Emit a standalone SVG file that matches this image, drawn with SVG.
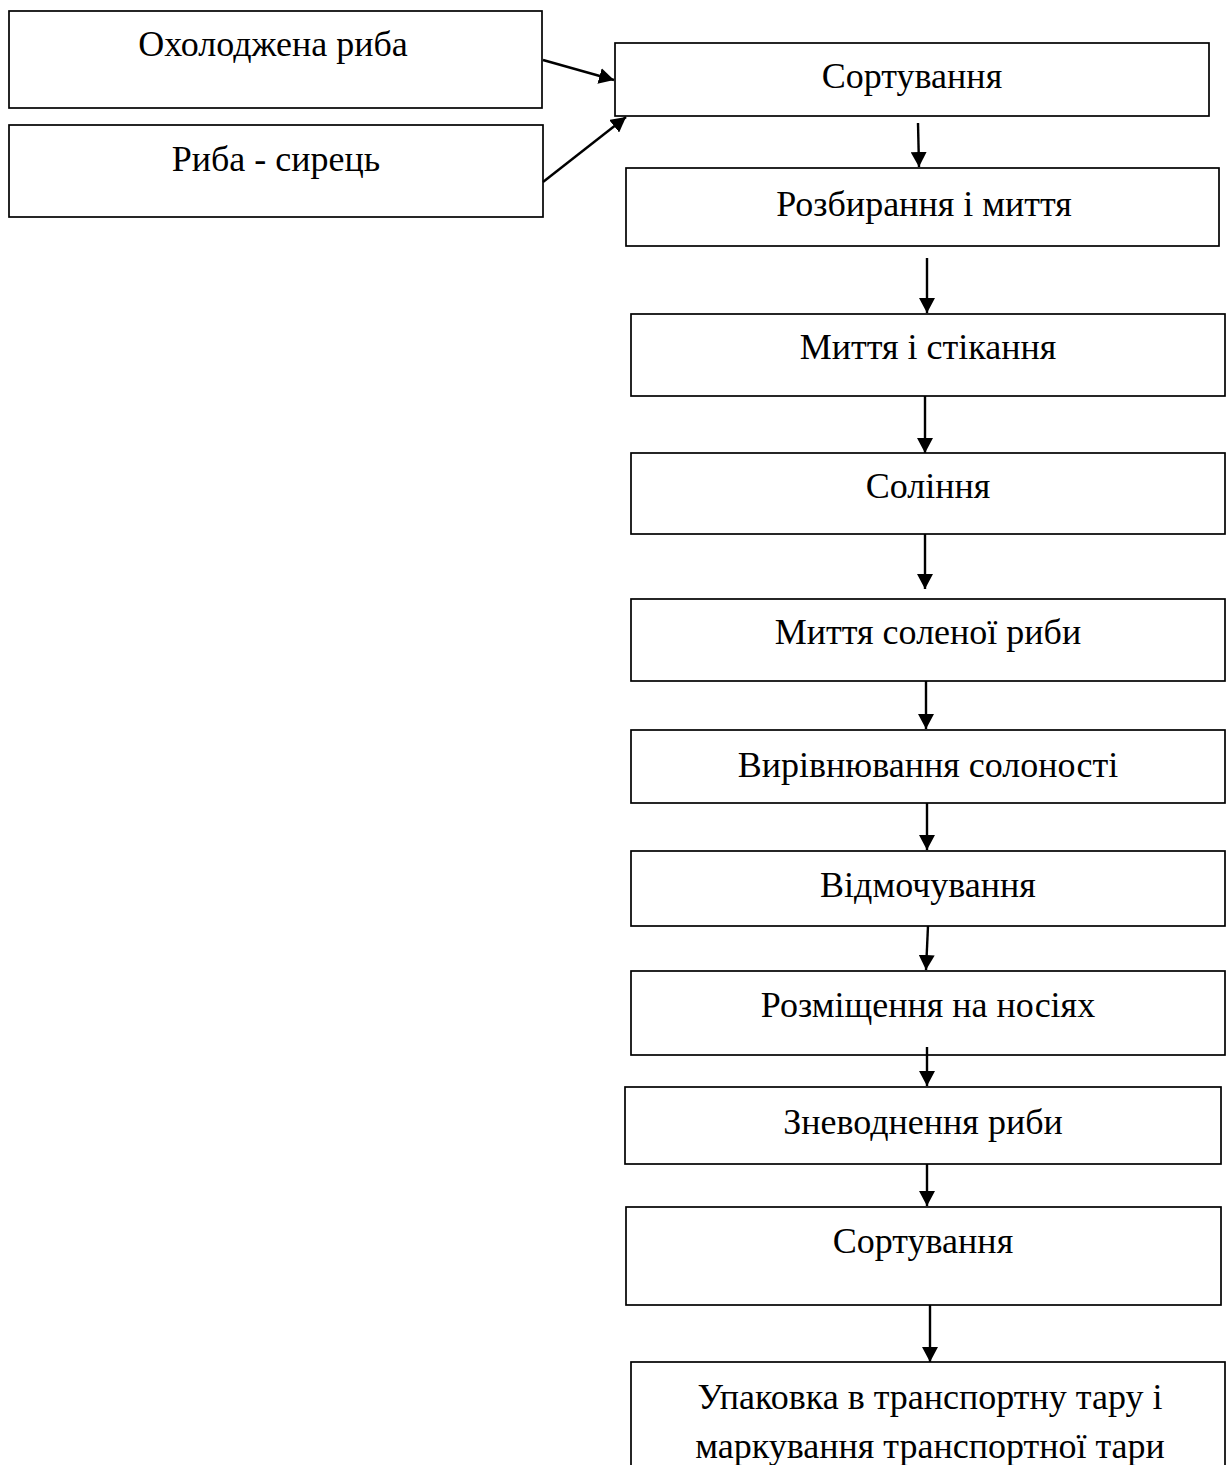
<svg xmlns="http://www.w3.org/2000/svg" width="1226" height="1465" viewBox="0 0 1226 1465">
<style>
.box{fill:#fff;stroke:#000;stroke-width:1.7}
.t{font-family:"Liberation Serif","Times New Roman",serif;font-size:36px;fill:#000;text-anchor:middle}
.c{stroke:#000;stroke-width:2.4;fill:none;marker-end:url(#ah)}
</style>
<defs>
<marker id="ah" viewBox="0 0 15 16" refX="15" refY="8" markerWidth="15" markerHeight="16" markerUnits="userSpaceOnUse" orient="auto">
<path d="M0,0 L15,8 L0,16 z" fill="#000"/>
</marker>
</defs>
<rect width="1226" height="1465" fill="#fff"/>
<g id="n-cooled"><rect class="box" x="9" y="11" width="533" height="97"/><text class="t" x="273" y="56">Охолоджена риба</text></g>
<g id="n-raw"><rect class="box" x="9" y="125" width="534" height="92"/><text class="t" x="276" y="171">Риба - сирець</text></g>
<g id="n-sort1"><rect class="box" x="615" y="43" width="594" height="73"/><text class="t" x="912" y="88">Сортування</text></g>
<g id="n-cut"><rect class="box" x="626" y="168" width="593" height="78"/><text class="t" x="924" y="216">Розбирання і миття</text></g>
<g id="n-wash"><rect class="box" x="631" y="314" width="594" height="82"/><text class="t" x="928" y="359">Миття і стікання</text></g>
<g id="n-salt"><rect class="box" x="631" y="453" width="594" height="81"/><text class="t" x="928" y="498">Соління</text></g>
<g id="n-washsalted"><rect class="box" x="631" y="599" width="594" height="82"/><text class="t" x="928" y="644">Миття соленої риби</text></g>
<g id="n-level"><rect class="box" x="631" y="730" width="594" height="73"/><text class="t" x="928" y="777">Вирівнювання солоності</text></g>
<g id="n-soak"><rect class="box" x="631" y="851" width="594" height="75"/><text class="t" x="928" y="897">Відмочування</text></g>
<g id="n-place"><rect class="box" x="631" y="971" width="594" height="84"/><text class="t" x="928" y="1017">Розміщення на носіях</text></g>
<g id="n-dry"><rect class="box" x="625" y="1087" width="596" height="77"/><text class="t" x="923" y="1134">Зневоднення риби</text></g>
<g id="n-sort2"><rect class="box" x="626" y="1207" width="595" height="98"/><text class="t" x="923" y="1253">Сортування</text></g>
<g id="n-pack"><rect class="box" x="631" y="1362" width="594" height="110"/><text class="t" x="930" y="1409">Упаковка в транспортну тару і</text><text class="t" x="930" y="1458">маркування транспортної тари</text></g>
<g id="connectors">
<line class="c" x1="543" y1="60" x2="614" y2="80"/>
<line class="c" x1="543" y1="182" x2="626" y2="117"/>
<line class="c" x1="918" y1="123" x2="919" y2="167"/>
<line class="c" x1="927" y1="258" x2="927" y2="313"/>
<line class="c" x1="925" y1="396" x2="925" y2="453"/>
<line class="c" x1="925" y1="534" x2="925" y2="589"/>
<line class="c" x1="926" y1="681" x2="926" y2="729"/>
<line class="c" x1="927" y1="803" x2="927" y2="850"/>
<line class="c" x1="928" y1="926" x2="926" y2="970"/>
<line class="c" x1="927" y1="1047" x2="927" y2="1086"/>
<line class="c" x1="927" y1="1164" x2="927" y2="1206"/>
<line class="c" x1="930" y1="1305" x2="930" y2="1362"/>
</g>
</svg>
